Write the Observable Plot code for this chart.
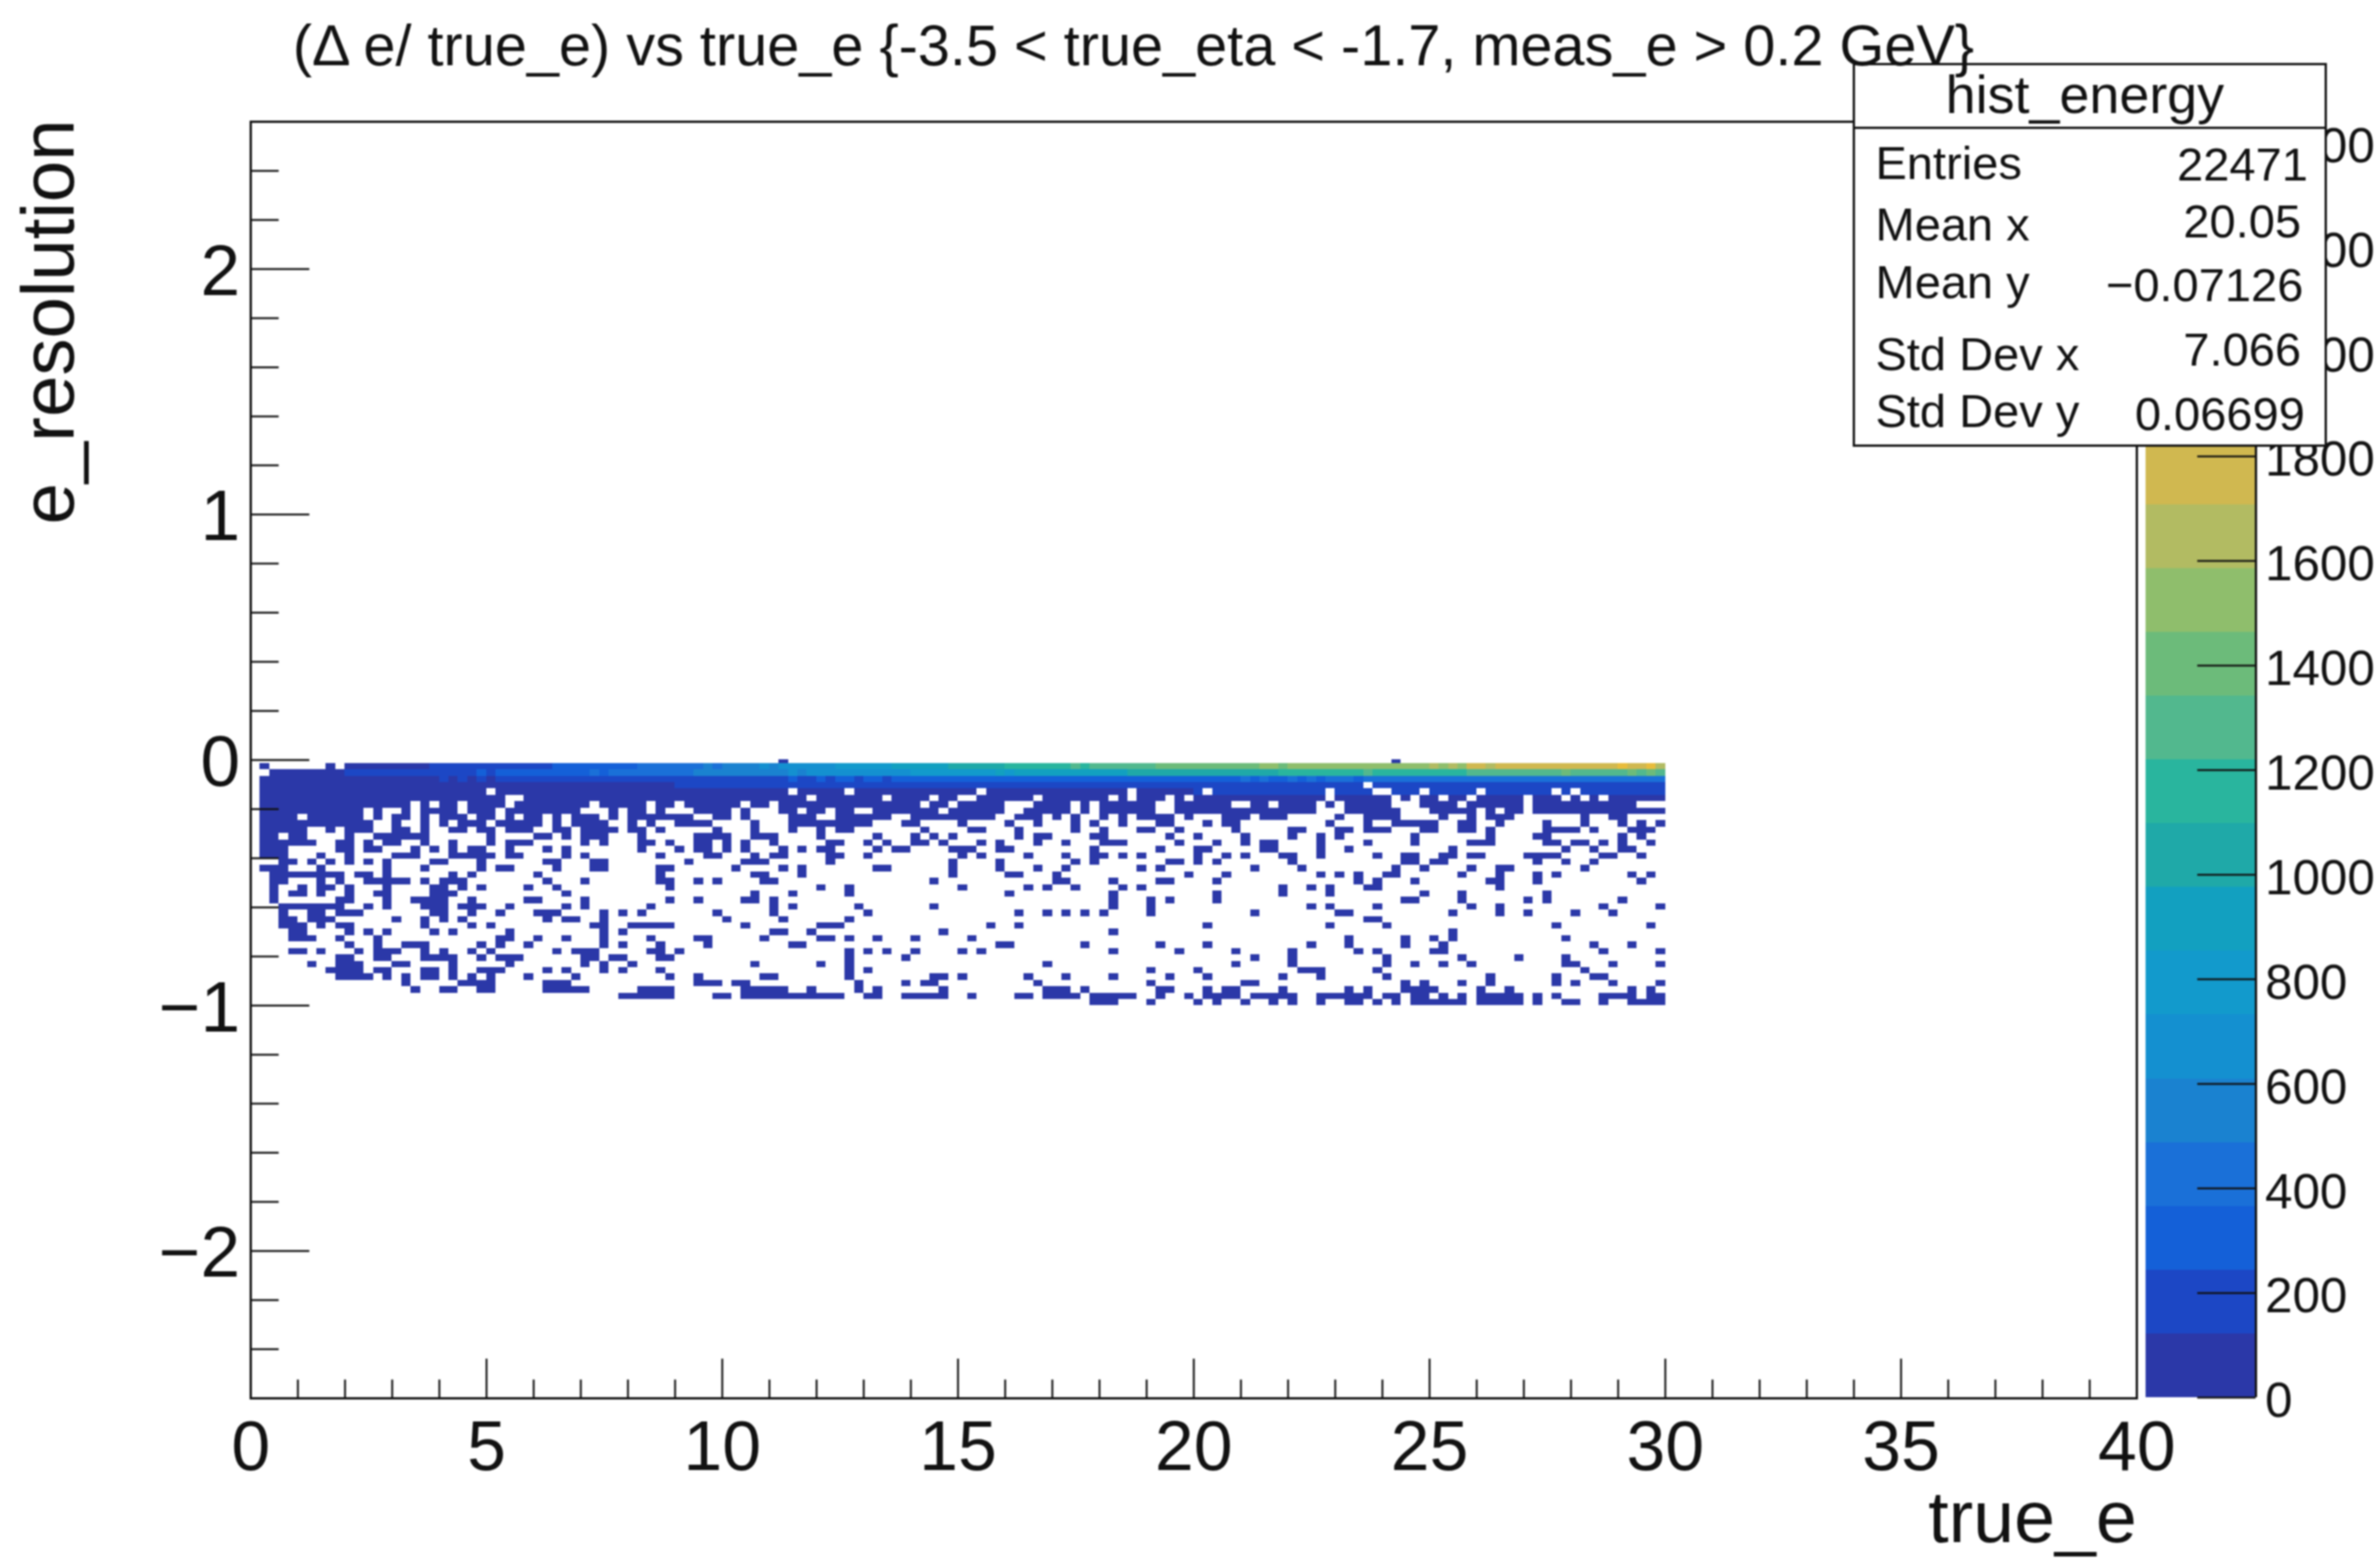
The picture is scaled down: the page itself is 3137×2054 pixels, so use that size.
<!DOCTYPE html>
<html>
<head>
<meta charset="utf-8">
<script src="https://cdn.jsdelivr.net/npm/d3@7"></script>
<script src="https://cdn.jsdelivr.net/npm/@observablehq/plot@0.6"></script>
<style>
html,body{margin:0;padding:0;background:#fff}
#stage{position:relative;width:3137px;height:2054px;overflow:hidden;font-family:"Liberation Sans",Arial,sans-serif;color:#111;filter:blur(0.8px)}
#stage>svg,#stage>div{position:absolute}
.t{position:absolute;line-height:1;white-space:pre}
</style>
</head>
<body>
<div id="stage"></div>
<script>
const titleText = "(\u0394 e/ true_e) vs true_e {-3.5 < true_eta < -1.7, meas_e > 0.2 GeV}";
const xLabel = "true_e";
const yLabel = "e_resolution";
const xMajor = [0,5,10,15,20,25,30,35,40];
const xMinor = [1,2,3,4,6,7,8,9,11,12,13,14,16,17,18,19,21,22,23,24,26,27,28,29,31,32,33,34,36,37,38,39];
const yMajor = [-2,-1,0,1,2];
const yMinor = [-2.4,-2.2,-1.8,-1.6,-1.4,-1.2,-0.8,-0.6,-0.4,-0.2,0.2,0.4,0.6,0.8,1.2,1.4,1.6,1.8,2.2,2.4];
const zTicks = [0,200,400,600,800,1000,1200,1400,1600,1800,2000,2200,2400];
const zColors = ["#2b38a8","#1c47c5","#1460d8","#1a70d8","#1a82d0","#1490d0","#129acc","#12a0c0","#1fa9a8","#29b59e","#52b88e","#6cbb7a","#8fbe6c","#b2bb62","#d0b850","#e8bc3c","#f5c02e","#f8d028","#f6e024","#f6f21a"];
const zBandWidth = 122;
const binX = 0.2, binY = 0.026, topEdge = -0.013;

const statLabels = ["Entries","Mean x","Mean y","Std Dev x","Std Dev y"];
const statValues = ["22471","20.05","\u22120.07126","7.066","0.06699"];

// occupied bins: one entry per y row (row 0 at the top), listing occupied x-bin columns
const occupied = [
"1 8 10-149",
"2-149",
"1-149",
"1-117 119-149",
"1-24 26-56 58-62 64-76 78-92 94-100 102-113 115-118 121-123 125-129 131-137 139 141-149",
"1-26 29-58 60-66 68-71 73-74 77-82 84-90 92 94-96 98 100-113 115-120 122 124-125 127-128 130-134 136-138 140 142 144-149",
"1-16 18 20-21 23-26 28-35 37-41 43-44 46-51 53-54 56-70 72-73 75-79 83-86 88 90-95 98-103 106-107 109-112 114 116-120 124-127 129-134 136-146",
"1-11 13 16 18-21 23-25 27-34 38 40-41 43 47-50 52 56-57 59-60 62-63 66-72 74-79 82-86 88 90-95 98-112 116-121 125-129 131 133-134 136-149",
"1-4 6-11 13 15-16 18 20-22 24-25 27 29-30 32 34-36 38 40-46 49-50 52 57-59 62-67 70-78 81-83 85 87 90 92 94-97 99 103-105 107-109 115 118-121 126 129 131-133 141 144-145",
"1-12 15 18 20 22-24 26-30 32 34-37 40 42 45-48 53 57-65 69-70 75 80 83 87 89 92 96-97 101 103-104 114 118 121-125 128-129 132 137 141 145 147 149",
"1-5 8 10-12 15-16 18 21-22 24-25 27-29 32-33 35-38 40-41 43 49 53 57 60 62-63 71 76-77 81 87 90 94-95 98 104 110-111 115-116 118-120 124-125 128-129 131 137-140 142 146-148",
"1-2 4-5 10 13-18 25 30-31 33 35-37 41 47-50 53-55 60 66 70 72 74 81 83-84 89-90 97 100 105 110 113 115 123 131 136-137 145 147",
"1-6 9-10 12 14-15 18 21 25 27-29 35 37 41-42 44 47-48 50 52 55 61-62 65 67 70-71 73 77 79 83 86 90-92 98 102 105 107-108 113 118 123 129-131 137-138 140-141 143 145 148",
"1-3 9-10 12-13 17 19 21 23-24 27 31 33 41 45 47-48 50 52 56 58 60-61 66 68-69 74-76 79-80 89 96 100-101 107-108 113 116 127 139 142 145-146",
"1-3 7 10 15-17 21-25 27-28 33 35 43 48-49 53 55-56 61-62 65 75 77 82 86 89-90 92 94 100 103 105 109-110 113 119 122-123 126-127 129-130 135-138 143-144 147",
"3-4 6 8 10 12 14 19-20 24 31-32 36-37 46 52-54 61 74 79 87 89 97-98 100 102 110 122-123 125-126 136 139 142",
"1-3 7 14 18 24 26-27 32 36-37 43-44 51 56 58 66-67 74 79 83 86 94 96 106 111 121 124 129 132-133 141",
"2-9 11-12 14 21 23 30 43 53-54 58 74 80-81 85 99 103 113 115 117 120-121 128 132 136 138 146 148",
"2-3 7 9 12-16 18 20-22 31 35 43-44 47 49 54-55 72 85-86 91 96-97 102 117 119 123 131-132 136 147",
"2 5 7-8 10 14 19-20 22 24 29 32 44 60 63 75 82 84 87 92 94 109 112 114 118-119 132",
"2 4-5 7 10 13-14 19-21 33 53 57 63 80 91 102 109 114 124 128 137",
"2 9-10 14 17-20 23 29-30 35 44 47 52-53 55 91 95 97 102 122-123 128 135 137 145",
"3-9 12 14 18-20 22-24 27 33 35 42 55 57 64 72 91 95 112 114 119 129 132 143 149",
"3 6-7 9-11 19-20 23 26 30-32 37 39 41 49 55 65 81 84 86 88 90 95 106 115-116 127 132 135 140 144",
"3-4 6-8 15 18 20 22 31 33-34 37 50 56 63 118-119",
"3-5 7 9-10 18 23 25 36-37 40-44 52 60-62 78 81 101 114 120 138 148",
"4-5 10 12 14 19 21 27 37 39 55-56 59 73 91 127",
"4-6 9 13 26-27 30 33 37 42 47-48 54 60-61 63 66 70 76 116 122 125 127 139",
"10 13 16-18 24 26 29 37 39 43 48 57-58 79-80 88 96 101 112 116 122 126 142 146",
"4-5 7 11 13-15 18 20 23 25 32 34-36 42-43 45 63 65 67 70 75 77 91 98 104 110 117 119 125-126 143 149",
"9-10 13-14 18-21 24 26-28 35-36 38-39 43-44 63 69 106 110 120 128 134 139",
"6 9-11 15-16 21 27 35 37 40 53 60 63 84 104 110 120 123 126 129 139-140 144 149",
"8-11 13-14 18-19 21 24-26 31 33 37 39 43 63 65 95 100 111-113 119 141",
"9-12 14 16 18-19 21 23 25 29 34 44 47 54-55 63 72-73 75 82 86 91 97 101 109 113 120 131 138 142-143",
"16 22-25 31-33 47-49 51-52 64 69 71-72 83 95 105-106 122 124 128 131 138 140 144 149",
"17 20-21 24-25 31-35 41-44 52-56 59 64 66 73 84-86 88 96-97 101 103-104 109 116 118 122-125 130 133 146 148",
"39-44 49-50 52-62 65-66 69-73 76 81-82 84-87 89-93 96 99 101-104 106-110 113-118 120-121 123-124 126 128 130-134 136 138 143-146 148-149",
"89-91 95 100 102 105 108 110 113 116-117 119 121 123-128 130-134 136 139-140 143 146-149"
];
// two isolated bins just above the band
const aboveBandColumns = [56,121];

const row0Counts = [0,60,0,0,0,0,0,0,40,0,
60,75,70,90,85,110,100,120,115,130,125,150,140,165,170,160,190,200,185,215,
230,220,250,260,245,280,300,290,320,340,330,370,390,380,420,440,430,470,500,480,
530,560,540,590,620,600,640,680,660,710,730,710,760,790,770,820,850,830,870,900,
880,930,960,940,990,1010,1000,1050,1080,1060,1100,1130,1120,1160,1180,1150,1200,1220,1210,1250,
1270,1240,1290,1320,1300,1340,1370,1350,1390,1420,1360,1400,1420,1390,1430,1460,1440,1470,1490,1460,
1480,1510,1490,1520,1540,1500,1530,1550,1510,1540,1560,1530,1570,1580,1550,1590,1570,1600,1580,1720,
1760,1700,1730,1780,1740,1790,1760,1720,1790,1810,1750,1790,1820,1760,1810,1830,1770,1820,1840,1680];
const row1Counts = [0,0,80,90,85,100,110,95,120,115,
130,125,150,145,170,160,180,175,200,190,215,205,230,225,250,240,270,260,285,280,
310,300,330,320,350,345,370,365,395,410,400,430,425,455,450,480,470,500,495,525,
520,545,540,570,565,590,585,610,605,630,640,625,670,660,690,680,710,700,730,725,
750,745,775,770,800,795,820,815,840,860,850,880,870,905,895,925,915,945,935,960,
955,975,970,990,985,1005,1000,1020,1015,1035,1030,1050,1045,1065,1060,1080,1075,1090,1085,1105,
1100,1120,1115,1135,1130,1145,1140,1160,1250,1150,1165,1180,1170,1190,1185,1200,1195,1210,1205,1320,
1230,1220,1245,1240,1260,1255,1275,1270,1290,1380,1300,1290,1315,1310,1330,1325,1345,1340,1360,1280];
const row2Counts = [0,70,70,60,80,75,65,90,85,70,
95,80,100,90,110,85,105,120,95,115,125,110,130,105,140,120,150,135,145,130,
155,170,145,165,180,160,175,190,170,185,200,175,190,210,185,205,195,215,190,220,
205,225,200,235,215,240,210,245,225,230,250,220,245,260,235,255,270,240,265,250,
275,255,285,260,290,270,280,300,265,295,280,305,275,310,290,300,320,285,315,295,
325,300,330,310,340,315,335,350,320,345,330,355,340,365,335,370,345,375,350,360,
380,355,385,365,390,370,395,360,400,375,405,380,395,415,385,420,400,425,390,410,
430,395,435,415,425,440,405,445,420,430,450,410,440,425,455,430,460,415,445,390];
// [first column, count] readings for the next rows; every other bin is low
const row3Steps = [[0,70],[25,110],[45,140],[116,200]];
const row4Steps = [[0,60],[60,100],[100,135]];
const lowCount = 30;

function parseSpans(s){
  const out=[];
  for(const p of s.trim().split(/\s+/)){
    const [a,b]=p.split("-").map(Number);
    for(let c=a;c<=(b===undefined?a:b);c++) out.push(c);
  }
  return out;
}
function stepValue(steps,c){let v=lowCount;for(const [s,n] of steps) if(c>=s) v=n;return v;}
function countFor(r,c){
  if(r===0) return row0Counts[c];
  if(r===1) return row1Counts[c];
  if(r===2) return row2Counts[c];
  if(r===3) return stepValue(row3Steps,c);
  if(r===4) return stepValue(row4Steps,c);
  return lowCount;
}
const cells=[];
occupied.forEach((s,r)=>{
  for(const c of parseSpans(s)){
    cells.push({x1:c*binX,x2:(c+1)*binX,y1:topEdge-r*binY,y2:topEdge-(r+1)*binY,count:countFor(r,c)});
  }
});
for(const c of aboveBandColumns) cells.push({x1:c*binX,x2:(c+1)*binX,y1:topEdge+binY*0.6,y2:topEdge,count:lowCount});

const zEdges = zColors.slice(1).map((_,i)=>(i+1)*zBandWidth);
const colorScale = {type:"threshold",domain:zEdges,range:zColors};
const bands = zColors.map((_,i)=>({lo:i*zBandWidth,hi:(i+1)*zBandWidth}));

const FONT = '"Liberation Sans",Arial,sans-serif';
const INK = "#111";
const yDomain=[-2.6,2.6], xDomain=[0,40];
const fmt = d=>String(d).replace("-","\u2212");
const xBase = yDomain[0], xTickLong = 0.16, xTickShort = 0.075;
const yTickLong = 1.25, yTickShort = 0.6;

const main = Plot.plot({
  width:3137,height:2054,
  marginLeft:330,marginRight:321,marginTop:160,marginBottom:211,
  style:{fontFamily:FONT,background:"transparent",color:INK},
  x:{domain:xDomain,axis:null},
  y:{domain:yDomain,axis:null},
  color:colorScale,
  marks:[
    Plot.rect(cells,{x1:"x1",x2:"x2",y1:"y1",y2:"y2",fill:"count",shapeRendering:"crispEdges"}),
    Plot.ruleX(xMajor,{y1:xBase,y2:xBase+xTickLong,stroke:INK,strokeWidth:2.5}),
    Plot.ruleX(xMinor,{y1:xBase,y2:xBase+xTickShort,stroke:INK,strokeWidth:2.5}),
    Plot.ruleY(yMajor,{x1:0,x2:yTickLong,stroke:INK,strokeWidth:2.5}),
    Plot.ruleY(yMinor,{x1:0,x2:yTickShort,stroke:INK,strokeWidth:2.5}),
    Plot.frame({stroke:INK,strokeWidth:3}),
    Plot.axisX(xMajor,{anchor:"bottom",tickSize:0,tickPadding:29,fontSize:92,label:null,tickFormat:fmt}),
    Plot.axisY(yMajor,{anchor:"left",tickSize:0,tickPadding:14,fontSize:94,dy:4,label:null,tickFormat:fmt}),
    Plot.text([xLabel],{frameAnchor:"bottom-right",textAnchor:"end",lineAnchor:"bottom",dy:189,fontSize:97,fill:INK}),
    Plot.text([yLabel],{frameAnchor:"top-left",textAnchor:"end",lineAnchor:"bottom",rotate:-90,dx:-234,dy:-3,fontSize:98,fill:INK})
  ]
});
main.style.left="0";main.style.top="0";
document.getElementById("stage").appendChild(main);

const bar = Plot.plot({
  width:309,height:2054,
  marginLeft:0,marginRight:164,marginTop:160,marginBottom:212,
  style:{fontFamily:FONT,background:"transparent",color:INK},
  x:{domain:[0,1],axis:null},
  y:{domain:[0,20*zBandWidth],axis:null},
  color:colorScale,
  marks:[
    Plot.rect(bands,{x1:0,x2:1,y1:"lo",y2:"hi",fill:"lo",shapeRendering:"crispEdges"}),
    Plot.ruleY(zTicks,{x1:0.47,x2:1,stroke:INK,strokeWidth:2.5}),
    Plot.ruleX([1],{stroke:INK,strokeWidth:3}),
    Plot.axisY(zTicks,{anchor:"right",tickSize:0,tickPadding:12,fontSize:65,dy:5,label:null,tickFormat:d=>String(d)})
  ]
});
bar.style.left="2828px";bar.style.top="0";
document.getElementById("stage").appendChild(bar);

// stats box
const stage=document.getElementById("stage");
const box=document.createElement("div");
box.style.cssText="left:2442px;top:83px;width:625px;height:506px;background:#fff;border:3px solid #111;box-sizing:border-box";
stage.appendChild(box);
const rule=document.createElement("div");
rule.style.cssText="left:2442px;top:167px;width:625px;height:3px;background:#111";
stage.appendChild(rule);
function putText(str,size,left,right,baseline,center){
  const el=document.createElement("span");
  el.className="t";el.textContent=str;
  el.style.fontSize=size+"px";
  el.style.top=(baseline-0.8465*size)+"px";
  if(center!==undefined){el.style.left=center+"px";el.style.transform="translateX(-50%)";}
  else if(right!==undefined){el.style.right=(3137-right)+"px";}
  else el.style.left=left+"px";
  stage.appendChild(el);
}
putText("hist_energy",71,undefined,undefined,149,2748);
const labelBase=[236,317,393,488,563];
const valueBase=[238,313,397,482,567];
const valueRight=[3042,3033,3036,3033,3038];
statLabels.forEach((s,i)=>putText(s,62,2472,undefined,labelBase[i]));
statValues.forEach((s,i)=>putText(s,62,undefined,valueRight[i],valueBase[i]));
putText(titleText,76,386,undefined,86);
</script>
</body>
</html>
